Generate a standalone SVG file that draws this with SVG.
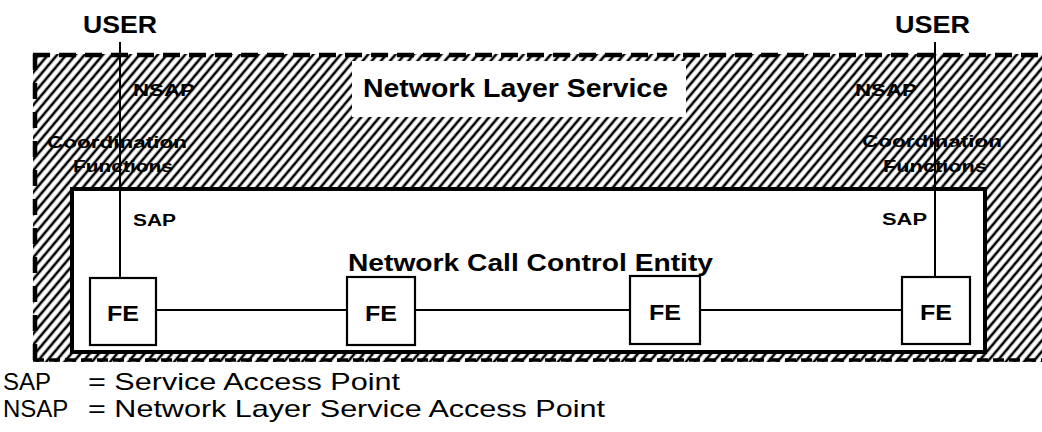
<svg xmlns="http://www.w3.org/2000/svg" width="1042" height="432" viewBox="0 0 1042 432">
<style>
.b{font-family:"Liberation Sans",Arial,sans-serif;font-weight:bold;fill:#000}
.r{font-family:"Liberation Sans",Arial,sans-serif;fill:#000}
.fe{fill:#fff;stroke:#000;stroke-width:2.2}
.ln{stroke:#000;stroke-width:2;fill:none}
</style>
<defs>
<pattern id="hatch" patternUnits="userSpaceOnUse" width="7" height="7" patternTransform="rotate(40)">
<line x1="2" y1="-1" x2="2" y2="8" stroke="#000" stroke-width="2.6"/>
</pattern>
<mask id="hm">
<rect x="0" y="0" width="1042" height="432" fill="#fff"/>
<rect x="72" y="189" width="913" height="163" fill="#000"/>
<rect x="352" y="61" width="334" height="56" fill="#000"/>
</mask>
</defs>
<g id="service-area">
<rect x="33" y="54" width="1015" height="308" fill="url(#hatch)" mask="url(#hm)"/>
<line x1="33" y1="55" x2="1042" y2="55" stroke="#000" stroke-width="4.5" stroke-dasharray="17,9"/>
<line x1="35" y1="54" x2="35" y2="362" stroke="#000" stroke-width="4.5" stroke-dasharray="16,13"/>
<line x1="33" y1="360" x2="1042" y2="360" stroke="#000" stroke-width="3.5" stroke-dasharray="11,5"/>
<text class="b" x="363" y="97" font-size="26" textLength="305" lengthAdjust="spacingAndGlyphs">Network Layer Service</text>
<text class="b" x="133" y="96" font-size="17" textLength="62" lengthAdjust="spacingAndGlyphs">NSAP</text>
<text class="b" x="855" y="96" font-size="17" textLength="62" lengthAdjust="spacingAndGlyphs">NSAP</text>
<text class="b" x="47" y="148" font-size="17" textLength="140" lengthAdjust="spacingAndGlyphs">Coordination</text>
<text class="b" x="73" y="172" font-size="17" textLength="100" lengthAdjust="spacingAndGlyphs">Functions</text>
<text class="b" x="862" y="147" font-size="17" textLength="140" lengthAdjust="spacingAndGlyphs">Coordination</text>
<text class="b" x="883" y="172" font-size="17" textLength="104" lengthAdjust="spacingAndGlyphs">Functions</text>
</g>
<g id="call-control-entity">
<rect x="72" y="189" width="913" height="163" fill="#fff" stroke="#000" stroke-width="4"/>
<text class="b" x="348" y="271" font-size="23" textLength="365" lengthAdjust="spacingAndGlyphs">Network Call Control Entity</text>
<text class="b" x="133" y="226" font-size="16" textLength="43" lengthAdjust="spacingAndGlyphs">SAP</text>
<text class="b" x="882" y="225" font-size="16" textLength="45" lengthAdjust="spacingAndGlyphs">SAP</text>
</g>
<g id="connectors">
<line class="ln" x1="120" y1="42" x2="120" y2="278"/>
<line class="ln" x1="935" y1="42" x2="935" y2="278"/>
<line class="ln" x1="157" y1="310" x2="347" y2="310"/>
<line class="ln" x1="415" y1="310" x2="630" y2="310"/>
<line class="ln" x1="700" y1="310" x2="902" y2="310"/>
</g>
<g id="user-left"><text class="b" x="83" y="33" font-size="24" textLength="74" lengthAdjust="spacingAndGlyphs">USER</text></g>
<g id="user-right"><text class="b" x="895" y="33" font-size="24" textLength="75" lengthAdjust="spacingAndGlyphs">USER</text></g>
<g id="fe1"><rect class="fe" x="90" y="278" width="66" height="67"/><text class="b" x="107" y="321" font-size="22" textLength="32" lengthAdjust="spacingAndGlyphs">FE</text></g>
<g id="fe2"><rect class="fe" x="347" y="277" width="68" height="68"/><text class="b" x="365" y="321" font-size="22" textLength="32" lengthAdjust="spacingAndGlyphs">FE</text></g>
<g id="fe3"><rect class="fe" x="630" y="276" width="70" height="68"/><text class="b" x="649" y="320" font-size="22" textLength="32" lengthAdjust="spacingAndGlyphs">FE</text></g>
<g id="fe4"><rect class="fe" x="902" y="277" width="68" height="67"/><text class="b" x="920" y="320" font-size="22" textLength="32" lengthAdjust="spacingAndGlyphs">FE</text></g>
<g id="legend">
<text class="r" x="3" y="390" font-size="24">SAP</text>
<text class="r" x="88" y="390" font-size="24" textLength="312" lengthAdjust="spacingAndGlyphs">= Service Access Point</text>
<text class="r" x="3" y="417" font-size="24">NSAP</text>
<text class="r" x="88" y="417" font-size="24" textLength="517" lengthAdjust="spacingAndGlyphs">= Network Layer Service Access Point</text>
</g>
</svg>
